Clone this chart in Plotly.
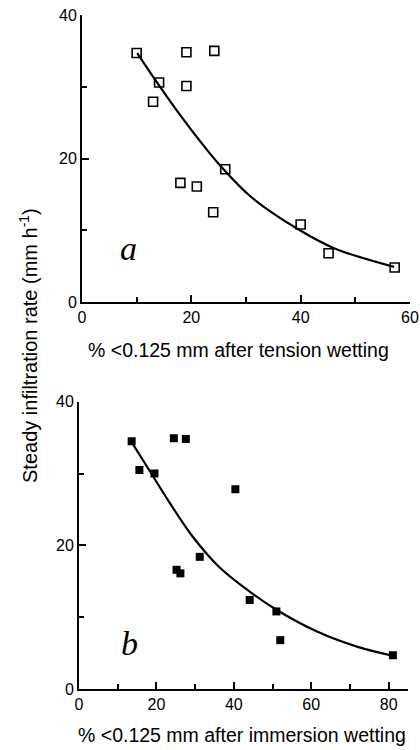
import plotly.graph_objects as go

# Panel a: tension wetting
a_x = [10.0, 14.1, 13.0, 19.1, 19.1, 24.2, 26.2, 18.0, 21.0, 24.0, 40.0, 45.1, 57.2]
a_y = [34.7, 30.6, 27.9, 34.8, 30.1, 35.0, 18.5, 16.6, 16.1, 12.5, 10.8, 6.8, 4.8]
a_fit_x = [10.1, 14.0, 18.0, 21.0, 25.3, 31.0, 39.4, 46.1, 57.1]
a_fit_y = [34.7, 30.3, 26.0, 23.0, 19.0, 14.6, 10.2, 7.5, 4.9]

# Panel b: immersion wetting
b_x = [13.6, 15.6, 19.5, 24.5, 27.6, 40.4, 31.2, 25.2, 26.2, 44.1, 51.0, 52.0, 81.1]
b_y = [34.5, 30.5, 30.0, 34.9, 34.8, 27.8, 18.4, 16.6, 16.1, 12.4, 10.8, 6.8, 4.7]
b_fit_x = [13.8, 18.8, 23.1, 29.1, 36.0, 44.0, 51.1, 61.5, 71.8, 81.3]
b_fit_y = [34.2, 29.9, 26.2, 21.4, 17.1, 13.6, 11.0, 8.0, 5.9, 4.6]

a_xticks = [0, 20, 40, 60]
b_xticks = [0, 20, 40, 60, 80]
y_ticks = [0, 20, 40]

FONT = "Liberation Sans, Arial, sans-serif"
W, H = 420, 750


def px(x):
    return x / W


def py(y):
    return (H - y) / H


fig = go.Figure()
fig.add_trace(go.Scatter(x=a_fit_x, y=a_fit_y, mode="lines", line=dict(color="black", width=2.2, shape="spline"),
                         xaxis="x", yaxis="y", showlegend=False, hoverinfo="skip"))
fig.add_trace(go.Scatter(x=a_x, y=a_y, mode="markers",
                         marker=dict(symbol="square-open", size=9, color="black", line=dict(width=1.6, color="black")),
                         xaxis="x", yaxis="y", showlegend=False))
fig.add_trace(go.Scatter(x=b_fit_x, y=b_fit_y, mode="lines", line=dict(color="black", width=2.2, shape="spline"),
                         xaxis="x2", yaxis="y2", showlegend=False, hoverinfo="skip"))
fig.add_trace(go.Scatter(x=b_x, y=b_y, mode="markers",
                         marker=dict(symbol="square", size=8, color="black"),
                         xaxis="x2", yaxis="y2", showlegend=False))

common = dict(showgrid=False, zeroline=False, showline=True, linecolor="black", linewidth=2,
              ticks="inside", ticklen=7, tickwidth=1.5, tickcolor="black", ticklabeloverflow="allow",
              tickfont=dict(family=FONT, size=16, color="black"), automargin=False, fixedrange=True)
minor = dict(dtick=10, ticks="inside", ticklen=5, tickwidth=1.5, tickcolor="black")

fig.update_layout(
    width=W, height=H,
    margin=dict(l=0, r=0, t=0, b=0),
    paper_bgcolor="white", plot_bgcolor="white",
    xaxis=dict(domain=[px(82), px(410)], range=[0, 60], tickvals=a_xticks, anchor="y", minor=minor, **common),
    yaxis=dict(domain=[py(302), py(15)], range=[0, 40], tickvals=y_ticks, anchor="x", minor=minor, **common),
    xaxis2=dict(domain=[px(79), px(408)], range=[0, 85], tickvals=b_xticks, anchor="y2", minor=minor, **common),
    yaxis2=dict(domain=[py(689), py(401.7)], range=[0, 40], tickvals=y_ticks, anchor="x2", minor=minor, **common),
)

annots = [
    dict(text="% <0.125 mm after tension wetting", x=px(238), y=py(350), font=dict(family=FONT, size=19.5)),
    dict(text="% <0.125 mm after immersion wetting", x=px(242), y=py(735), font=dict(family=FONT, size=19.5)),
    dict(text="Steady infiltration rate (mm h<sup>-1</sup>)", x=px(28), y=py(346), textangle=-90,
         font=dict(family=FONT, size=20)),
    dict(text="<i>a</i>", x=px(128), y=py(249), font=dict(family="Liberation Serif, serif", size=34)),
    dict(text="<i>b</i>", x=px(129), y=py(643), font=dict(family="Liberation Serif, serif", size=34)),
]
for a in annots:
    a.update(xref="paper", yref="paper", showarrow=False, xanchor="center", yanchor="middle")
    a["font"]["color"] = "black"
    fig.add_annotation(**a)

fig.write_html("out.html", config={"displayModeBar": False},
               post_script="document.body.style.margin='0';document.body.style.overflow='hidden';")
